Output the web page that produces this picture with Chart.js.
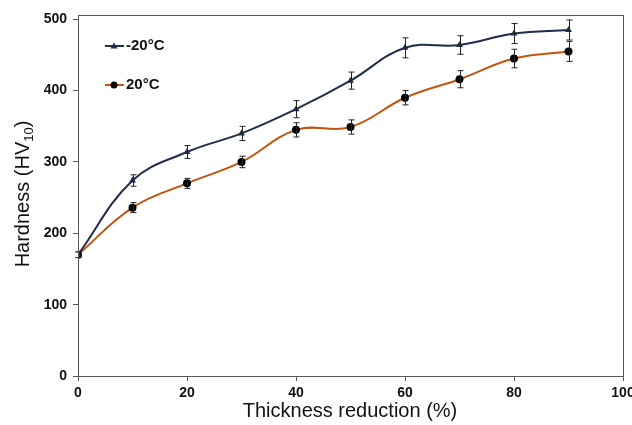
<!DOCTYPE html>
<html>
<head>
<meta charset="utf-8">
<script src="https://cdn.jsdelivr.net/npm/chart.js@4"></script>
<style>
  html, body { margin: 0; padding: 0; background: #fff; }
  #wrap { width: 632px; height: 425px; position: relative; }
</style>
</head>
<body>
<div id="wrap"><canvas id="hardness-chart" width="632" height="425"></canvas></div>
<script>
// thickness reduction (%)
const reduction = [0, 10, 20, 30, 40, 50, 60, 70, 80, 90];
// hardness HV10
const coldValues = [170, 274, 314, 340, 374, 414, 460, 464, 480, 485];
const coldErrors = [4, 8, 9, 10, 12, 12, 14, 13, 14, 14];
const warmValues = [170, 236, 270, 300, 345, 349, 390, 416, 445, 455];
const warmErrors = [4, 7, 7, 8, 10, 10, 10, 12, 13, 14];
const seriesLabels = ['-20°C', '20°C'];
const xTicks = [0, 20, 40, 60, 80, 100];
const yTicks = [0, 100, 200, 300, 400, 500];

const errorSets = [coldErrors, warmErrors];

// error bars, box and legend drawn over the chart
const extrasPlugin = {
    id: 'extras',
    afterDatasetsDraw(chart) {
        const ctx = chart.ctx;
        const x = chart.scales.x;
        const y = chart.scales.y;
        ctx.save();
        ctx.strokeStyle = '#222';
        ctx.lineWidth = 1;
        chart.data.datasets.forEach((ds, i) => {
            ds.data.forEach((p) => {
                const err = errorSets[i][reduction.indexOf(p.x)];
                const px = Math.round(x.getPixelForValue(p.x)) + 0.5;
                const top = y.getPixelForValue(p.y + err);
                const bot = y.getPixelForValue(p.y - err);
                ctx.beginPath();
                ctx.moveTo(px, top); ctx.lineTo(px, bot);
                ctx.moveTo(px - 3, top); ctx.lineTo(px + 3, top);
                ctx.moveTo(px - 3, bot); ctx.lineTo(px + 3, bot);
                ctx.stroke();
            });
        });

        // plot box
        const a = chart.chartArea;
        ctx.strokeStyle = '#555';
        ctx.strokeRect(a.left + 0.5, a.top + 0.5, a.right - a.left, a.bottom - a.top);

        // legend
        const items = [
            {color: '#1f2d4a', marker: 'triangle', label: seriesLabels[0], y: 46},
            {color: '#c0550f', marker: 'circle', label: seriesLabels[1], y: 85}
        ];
        items.forEach((it) => {
            ctx.strokeStyle = it.color;
            ctx.lineWidth = 2;
            ctx.beginPath();
            ctx.moveTo(105, it.y); ctx.lineTo(124, it.y);
            ctx.stroke();
            ctx.fillStyle = it.marker === 'circle' ? '#000' : '#1f2d4a';
            ctx.beginPath();
            if (it.marker === 'circle') {
                ctx.arc(114, it.y, 3.5, 0, Math.PI * 2);
            } else {
                ctx.moveTo(114, it.y - 3.5); ctx.lineTo(117.5, it.y + 2.5); ctx.lineTo(110.5, it.y + 2.5);
                ctx.closePath();
            }
            ctx.fill();
            ctx.fillStyle = '#111';
            ctx.font = 'bold 15px "Liberation Sans", Arial, sans-serif';
            ctx.textBaseline = 'middle';
            ctx.textAlign = 'left';
            ctx.fillText(it.label, 126, it.y);
        });

        // axis titles
        ctx.fillStyle = '#111';
        ctx.font = '20px "Liberation Sans", Arial, sans-serif';
        ctx.textAlign = 'center';
        ctx.textBaseline = 'middle';
        ctx.fillText('Thickness reduction (%)', 350, 411);

        ctx.translate(23, 194);
        ctx.rotate(-Math.PI / 2);
        const main = 'Hardness (HV';
        const sub = '10';
        const end = ')';
        ctx.font = '20px "Liberation Sans", Arial, sans-serif';
        const wMain = ctx.measureText(main).width;
        const wEnd = ctx.measureText(end).width;
        ctx.font = '13px "Liberation Sans", Arial, sans-serif';
        const wSub = ctx.measureText(sub).width;
        let start = -(wMain + wSub + wEnd) / 2;
        ctx.textAlign = 'left';
        ctx.font = '20px "Liberation Sans", Arial, sans-serif';
        ctx.fillText(main, start, 0);
        ctx.font = '13px "Liberation Sans", Arial, sans-serif';
        ctx.fillText(sub, start + wMain, 6);
        ctx.font = '20px "Liberation Sans", Arial, sans-serif';
        ctx.fillText(end, start + wMain + wSub, 0);
        ctx.restore();
    }
};

const toPoints = (vals) => vals.map((v, i) => ({x: reduction[i], y: v}));

const tickFont = {family: '"Liberation Sans", Arial, sans-serif', size: 14, weight: 'bold'};

new Chart(document.getElementById('hardness-chart'), {
    type: 'line',
    data: {
        datasets: [
            {
                label: seriesLabels[0],
                data: toPoints(coldValues),
                borderColor: '#1f2d4a',
                backgroundColor: '#1f2d4a',
                borderWidth: 2,
                tension: 0.4,
                pointStyle: 'triangle',
                pointRadius: 4,
                pointBorderWidth: 0
            },
            {
                label: seriesLabels[1],
                data: toPoints(warmValues),
                borderColor: '#c0550f',
                backgroundColor: '#000',
                borderWidth: 2,
                tension: 0.4,
                pointStyle: 'circle',
                pointRadius: 4,
                pointBorderWidth: 0
            }
        ]
    },
    options: {
        responsive: false,
        animation: false,
        devicePixelRatio: 1,
        layout: {padding: {top: 15, right: 9, left: 0, bottom: 0}},
        plugins: {legend: {display: false}, tooltip: {enabled: false}},
        scales: {
            x: {
                type: 'linear',
                min: 0,
                max: 100,
                afterBuildTicks: (s) => { s.ticks = xTicks.map((v) => ({value: v})); },
                afterFit: (s) => { s.height = 49; s.paddingLeft = 0; s.paddingRight = 0; },
                grid: {drawOnChartArea: false, drawTicks: true, tickLength: 5, color: '#555'},
                border: {color: '#555'},
                ticks: {color: '#111', font: tickFont, padding: 4, maxRotation: 0}
            },
            y: {
                min: 0,
                max: 506,
                afterBuildTicks: (s) => { s.ticks = yTicks.map((v) => ({value: v})); },
                afterFit: (s) => { s.width = 78; s.paddingTop = 0; s.paddingBottom = 0; },
                grid: {drawOnChartArea: false, drawTicks: true, tickLength: 5, color: '#555'},
                border: {color: '#555'},
                ticks: {color: '#111', font: tickFont, padding: 6}
            }
        }
    },
    plugins: [extrasPlugin]
});
</script>
</body>
</html>
